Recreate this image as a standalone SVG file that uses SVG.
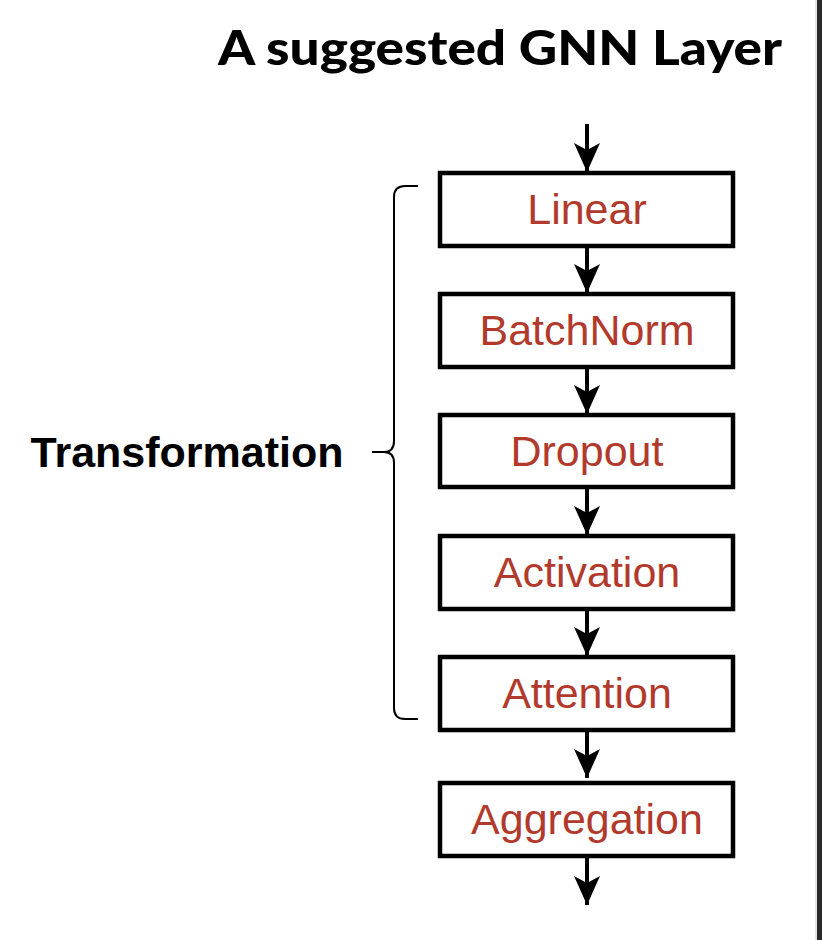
<svg xmlns="http://www.w3.org/2000/svg" width="822" height="940" viewBox="0 0 822 940">
<style>
.box{fill:#fff;stroke:#000;stroke-width:4.5}
.lbl{font-family:"Liberation Sans",Arial,sans-serif;font-size:43px;fill:#b23a2c;text-anchor:middle}
.conn{stroke:#000;stroke-width:4;fill:none}
</style>
<defs>
<marker id="ah" markerWidth="30" markerHeight="30" viewBox="0 0 30 30" refX="14" refY="29" orient="0" markerUnits="userSpaceOnUse">
<path d="M1,0 L14,7 L27,0 L14,29 Z" fill="#000"/>
</marker>
</defs>
<rect width="822" height="940" fill="#fff"/>
<rect x="815" y="0" width="3" height="940" fill="#e6e6e6"/>
<rect x="817" y="0" width="5" height="940" fill="#2a2a2a"/>
<text x="500" y="65" font-family="Lato,'Open Sans',sans-serif" font-weight="900" font-size="48" text-anchor="middle" textLength="564" lengthAdjust="spacingAndGlyphs">A suggested GNN Layer</text>
<g id="connectors">
<line class="conn" x1="587" y1="124" x2="587" y2="172" marker-end="url(#ah)"/>
<line class="conn" x1="587" y1="247" x2="587" y2="293" marker-end="url(#ah)"/>
<line class="conn" x1="587" y1="367" x2="587" y2="414" marker-end="url(#ah)"/>
<line class="conn" x1="587" y1="487" x2="587" y2="535" marker-end="url(#ah)"/>
<line class="conn" x1="587" y1="609" x2="587" y2="656" marker-end="url(#ah)"/>
<line class="conn" x1="587" y1="731" x2="587" y2="778" marker-end="url(#ah)"/>
<line class="conn" x1="587" y1="857" x2="587" y2="905" marker-end="url(#ah)"/>
</g>
<g id="brace">
<path d="M418,186 L405,186 Q394,186 394,197 L394,441 Q394,452 384,452 L372,452 M384,452 Q394,452 394,463 L394,708 Q394,719 405,719 L418,719" fill="none" stroke="#000" stroke-width="2"/>
</g>
<g id="label-transformation">
<text x="187" y="467" font-family="'Liberation Sans',Arial,sans-serif" font-weight="bold" font-size="43" text-anchor="middle">Transformation</text>
</g>
<g id="node-linear"><rect class="box" x="440" y="173" width="293" height="73"/><text class="lbl" x="587" y="224">Linear</text></g>
<g id="node-batchnorm"><rect class="box" x="440" y="294" width="293" height="73"/><text class="lbl" x="587" y="345">BatchNorm</text></g>
<g id="node-dropout"><rect class="box" x="440" y="415" width="293" height="72"/><text class="lbl" x="587" y="466">Dropout</text></g>
<g id="node-activation"><rect class="box" x="440" y="536" width="293" height="73"/><text class="lbl" x="587" y="587">Activation</text></g>
<g id="node-attention"><rect class="box" x="440" y="657" width="293" height="73"/><text class="lbl" x="587" y="708">Attention</text></g>
<g id="node-aggregation"><rect class="box" x="440" y="783" width="293" height="73"/><text class="lbl" x="587" y="834">Aggregation</text></g>
</svg>
